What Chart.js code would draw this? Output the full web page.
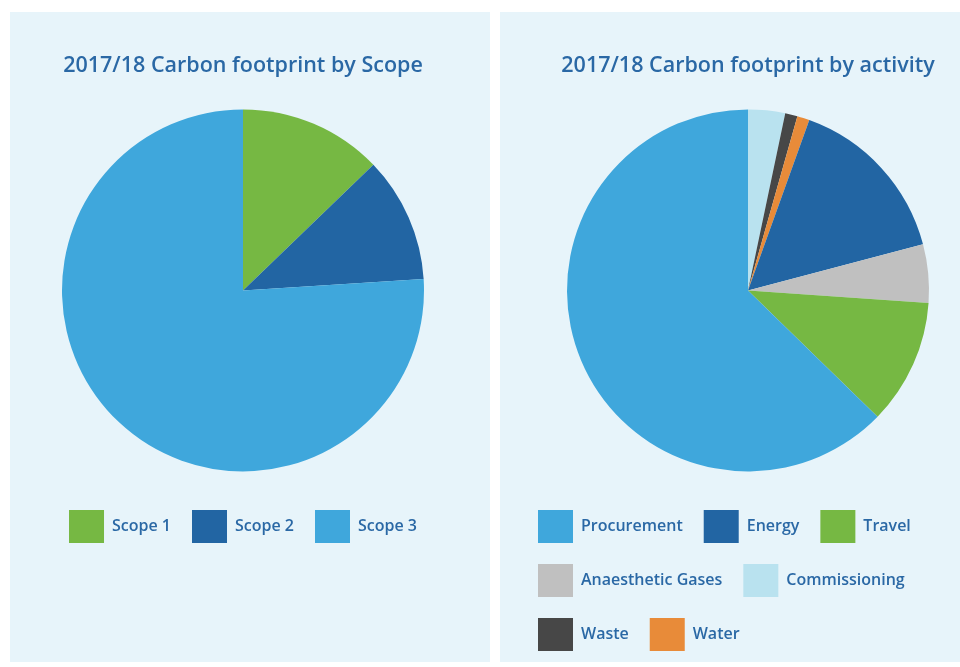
<!DOCTYPE html>
<html>
<head>
<meta charset="utf-8">
<script src="https://cdn.jsdelivr.net/npm/chart.js@4/dist/chart.umd.min.js"></script>
<style>
  html, body { margin: 0; padding: 0; background: #fff; overflow: hidden; }
  .panel { position: absolute; top: 12px; background: #e7f4fa; overflow: hidden; }
  #left { left: 10px; width: 480px; height: 650px; }
  #right { left: 500px; width: 460px; height: 650px; }
  canvas { position: absolute; top: 0; left: 0; }
</style>
</head>
<body>
<div class="panel" id="left"><canvas id="scopeChart" width="480" height="541"></canvas></div>
<div class="panel" id="right"><canvas id="activityChart" width="479" height="649"></canvas></div>
<script>
// values, in percent of the total footprint
var scopeLabels = ['Scope 1', 'Scope 2', 'Scope 3'];
var scopeValues = [12.8, 11.2, 76.0];
var scopeColors = ['#76b843', '#2265a3', '#3fa7dc'];

// slice order, clockwise from 12 o'clock
var activityLabels = ['Commissioning', 'Waste', 'Water', 'Energy', 'Anaesthetic Gases', 'Travel', 'Procurement'];
var activityValues = [3.3, 1.1, 1.1, 15.4, 5.2, 11.2, 62.7];
var activityColors = ['#b9e2ef', '#474747', '#e88b39', '#2265a3', '#c0c0c0', '#76b843', '#3fa7dc'];
// order the legend shows them in
var legendOrder = ['Procurement', 'Energy', 'Travel', 'Anaesthetic Gases', 'Commissioning', 'Waste', 'Water'];

var textColor = '#2a68a5';
var fontFamily = '"Open Sans", "Noto Sans", sans-serif';

function pieOptions(titleText, padLeft, padRight, legendAlign, sortFn) {
    return {
        responsive: false,
        devicePixelRatio: 1,
        animation: false,
        layout: { padding: { left: padLeft, right: padRight, top: 0, bottom: 0 } },
        plugins: {
            title: {
                display: true,
                text: titleText,
                color: textColor,
                font: { family: fontFamily, size: 21.5, weight: '600' },
                padding: { top: 41, bottom: 13 }
            },
            legend: {
                position: 'bottom',
                align: legendAlign,
                labels: {
                    boxWidth: 35,
                    boxHeight: 33,
                    padding: 21,
                    color: textColor,
                    font: { family: fontFamily, size: 16, weight: '600' },
                    sort: sortFn
                }
            },
            tooltip: { enabled: false }
        }
    };
}

new Chart(document.getElementById('scopeChart'), {
    type: 'pie',
    data: {
        labels: scopeLabels,
        datasets: [{
            data: scopeValues,
            backgroundColor: scopeColors,
            borderWidth: 0,
            radius: 181
        }]
    },
    options: pieOptions('2017/18 Carbon footprint by Scope', 0, 14, 'center')
});

new Chart(document.getElementById('activityChart'), {
    type: 'pie',
    data: {
        labels: activityLabels,
        datasets: [{
            data: activityValues,
            backgroundColor: activityColors,
            borderWidth: 0,
            radius: 181
        }]
    },
    options: pieOptions('2017/18 Carbon footprint by activity', 17, 0, 'start', function(a, b) {
        return legendOrder.indexOf(a.text) - legendOrder.indexOf(b.text);
    })
});
</script>
</body>
</html>
